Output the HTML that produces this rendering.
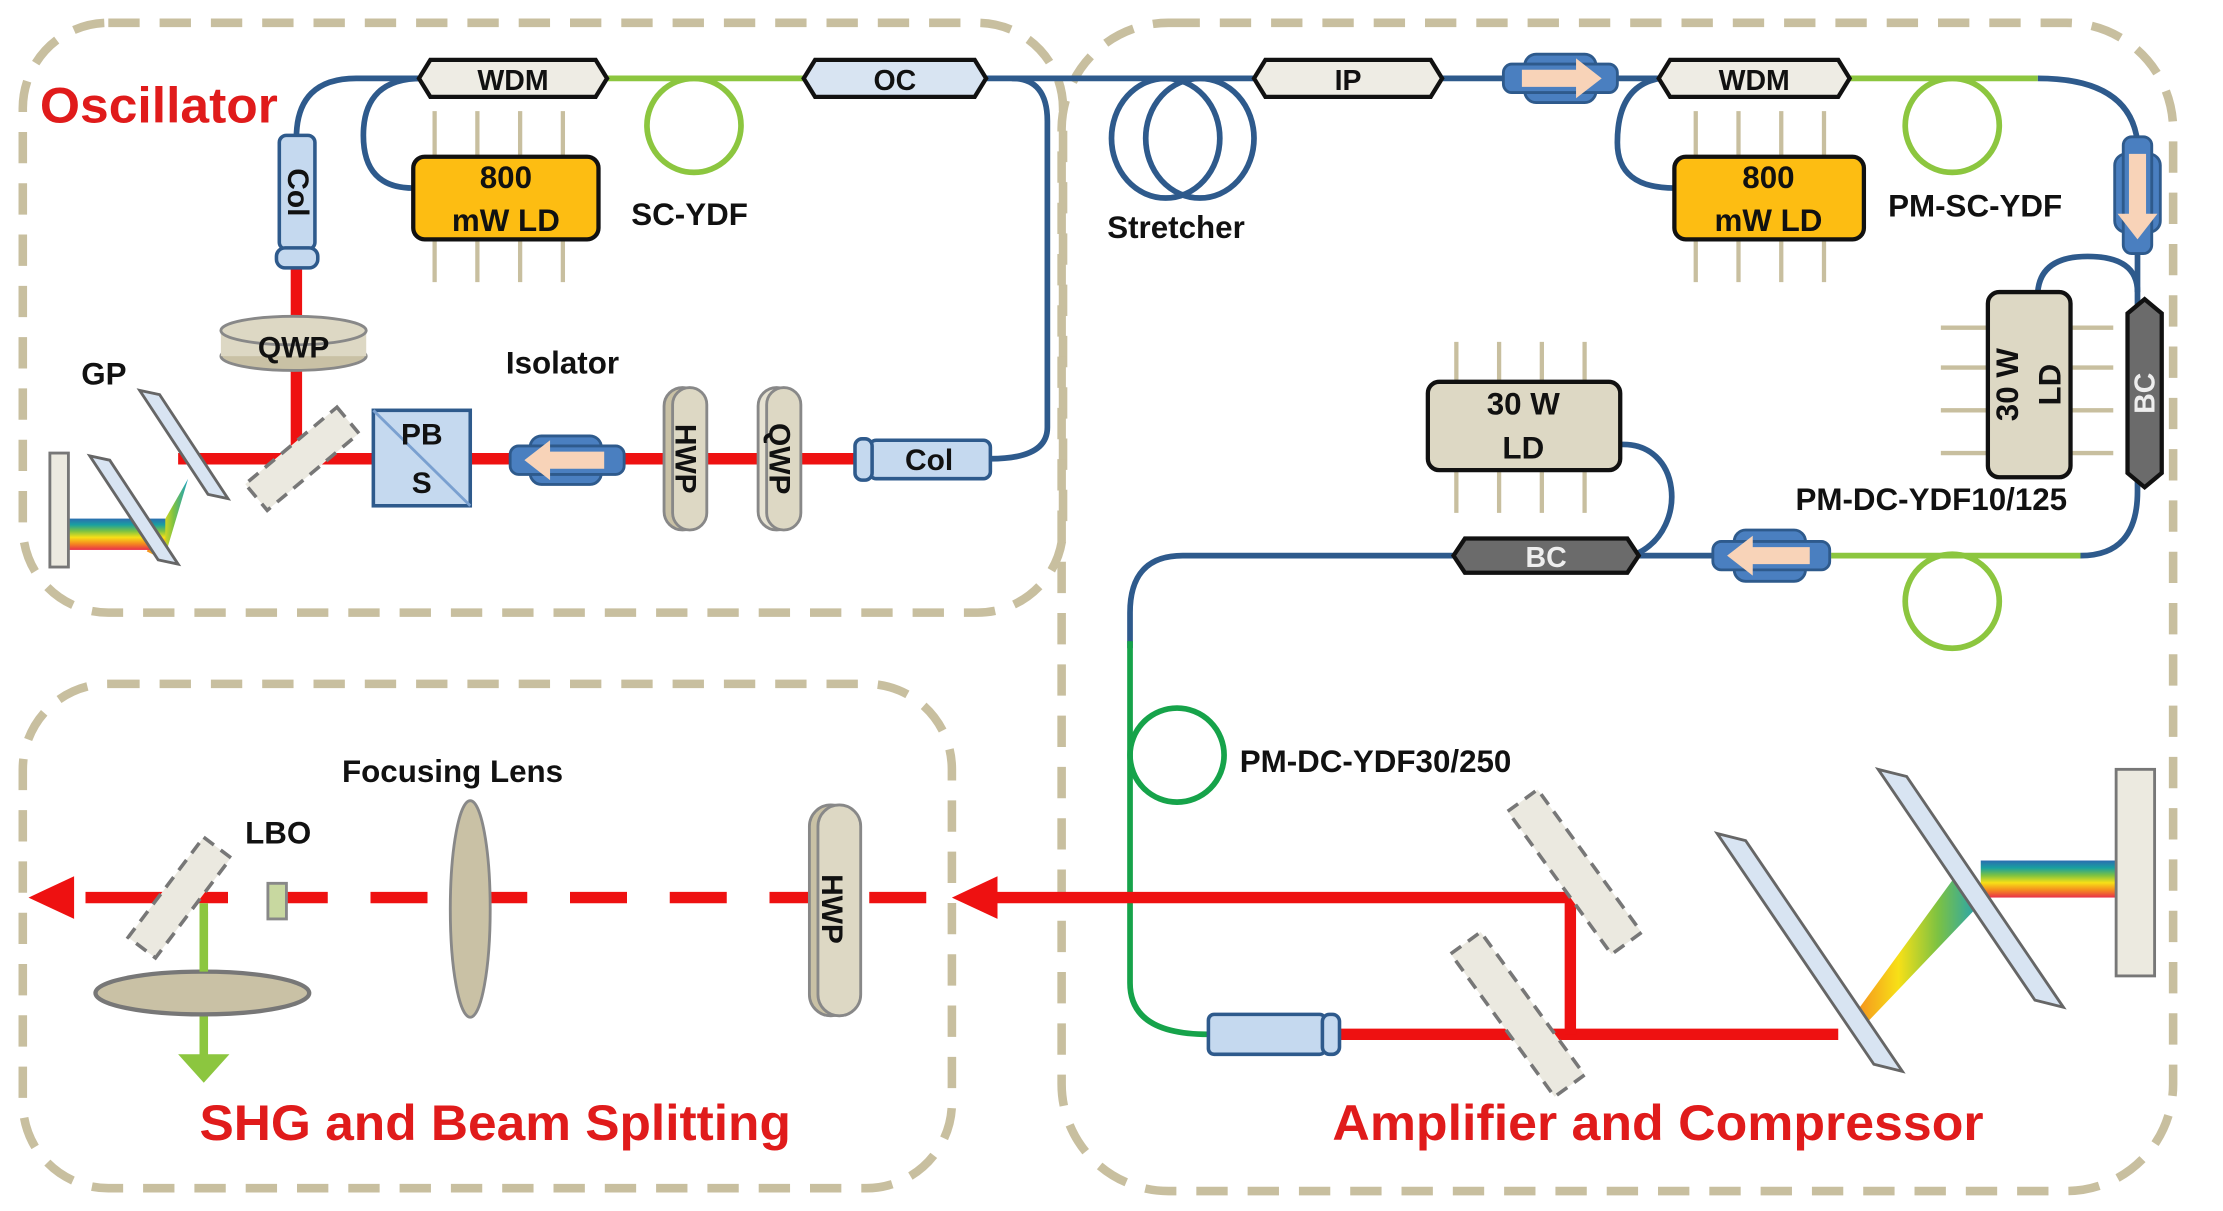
<!DOCTYPE html>
<html><head><meta charset="utf-8"><style>html,body{margin:0;padding:0;background:#fff}svg{display:block}</style></head>
<body>
<svg width="2223" height="1211" viewBox="0 0 1560 850" preserveAspectRatio="none" xmlns="http://www.w3.org/2000/svg" font-family="Liberation Sans, sans-serif">
<defs>
<linearGradient id="rbv" x1="0" y1="0" x2="0" y2="1">
<stop offset="0" stop-color="#2b6cb0"/><stop offset=".2" stop-color="#19a0a0"/><stop offset=".4" stop-color="#7dc242"/><stop offset=".6" stop-color="#f7e017"/><stop offset=".8" stop-color="#f58a1f"/><stop offset="1" stop-color="#e8304a"/>
</linearGradient>
<linearGradient id="rbf" x1="0" y1="0" x2="1" y2="0">
<stop offset="0" stop-color="#f58a1f"/><stop offset=".35" stop-color="#f7e017"/><stop offset=".65" stop-color="#7dc242"/><stop offset="1" stop-color="#19a0c0"/>
</linearGradient>
</defs>
<g fill="none" stroke="#c8bf9f" stroke-width="6" stroke-dasharray="22 14">
<rect x="16" y="16" width="730" height="414" rx="60"/>
<rect x="745" y="16" width="780" height="820" rx="75"/>
<rect x="16" y="480" width="652" height="354" rx="60"/>
</g>
<g fill="none" stroke="#2e5a8c" stroke-width="4">
<path d="M208 97 Q208 55 250 55 L296 55"/>
<path d="M296 55 Q255 55 255 95 Q255 132 290 132"/>
<path d="M690 55 L1170 55"/>
<path d="M710 55 Q735 55 735 85 L735 300 Q735 322 695 322"/>
<path d="M1165 55 Q1135 60 1135 100 Q1135 132 1175 132"/>
<path d="M1430 55 Q1495 55 1500 100 L1500 345 Q1500 390 1460 390"/>
<path d="M1500 205 Q1500 180 1465 180 Q1432 180 1430 205"/>
<path d="M1285 390 L1020 390"/>
<path d="M1137 312 C1180 310 1185 370 1150 388"/>
<path d="M1020 390 L830 390 Q793 390 793 430 L793 455"/>
</g>
<g fill="none" stroke="#8cc63f" stroke-width="4">
<path d="M425 55 L565 55"/><circle cx="487" cy="88" r="33"/>
<path d="M1295 55 L1430 55"/><circle cx="1370" cy="88" r="33"/>
<path d="M1460 390 L1285 390"/><circle cx="1370" cy="422" r="33"/>
</g>
<g fill="none" stroke="#16a34a" stroke-width="4">
<path d="M793 450 L793 690 Q793 726 848 726"/><circle cx="826" cy="530" r="33"/>
</g>
<g fill="none" stroke="#2e5a8c" stroke-width="4">
<ellipse cx="818" cy="97" rx="38" ry="42"/><ellipse cx="842" cy="97" rx="38" ry="42"/>
</g>
<g stroke="#ee1111" stroke-width="8" fill="none">
<path d="M208 188 L208 322"/><path d="M125 322 L600 322"/>
<path d="M940 726 L1290 726"/><path d="M1102 726 L1102 630 L690 630"/>
<path d="M60 630 L160 630"/>
<path d="M190 630 L660 630" stroke-dasharray="40 30"/>
</g>
<polygon points="668,630 700,615 700,645" fill="#ee1111"/>
<polygon points="20,630 52,615 52,645" fill="#ee1111"/>
<polygon points="132,336 103,387 115,393" fill="url(#rbf)"/>
<rect x="48" y="364" width="68" height="22" fill="url(#rbv)"/>
<polygon points="1300,714 1370,618 1392,632 1308,720" fill="url(#rbf)"/>
<rect x="1390" y="604" width="95" height="26" fill="url(#rbv)"/>
<g fill="#d8e4f2" stroke="#666" stroke-width="2">
<polygon points="98,274 112,277 160,350 146,347"/>
<polygon points="63,320 77,323 125,396 111,393"/>
<polygon points="1205,585 1225,590 1335,752 1315,747"/>
<polygon points="1318,540 1338,545 1448,707 1428,702"/>
</g>
<rect x="35" y="318" width="13" height="80" fill="#eceae0" stroke="#777" stroke-width="2"/>
<rect x="1485" y="540" width="27" height="145" fill="#eceae0" stroke="#777" stroke-width="2"/>
<g fill="#ebe9e0" stroke="#777" stroke-width="2.5" stroke-dasharray="9 6">
<rect x="-12" y="-42" width="24" height="84" transform="translate(212,322) rotate(50)"/>
<rect x="-13" y="-62" width="26" height="124" transform="translate(1105,612) rotate(-36)"/>
<rect x="-13" y="-62" width="26" height="124" transform="translate(1065,712) rotate(-36)"/>
<rect x="-12" y="-44" width="24" height="88" transform="translate(126,630) rotate(37)"/>
</g>
<g stroke="#111" stroke-width="3">
<path d="M302 42 L418 42 L426 55 L418 68 L302 68 L294 55 Z" fill="#eeece4"/>
<path d="M572 42 L684 42 L692 55 L684 68 L572 68 L564 55 Z" fill="#d8e4f2"/>
<path d="M888 42 L1004 42 L1012 55 L1004 68 L888 68 L880 55 Z" fill="#eeece4"/>
<path d="M1172 42 L1290 42 L1298 55 L1290 68 L1172 68 L1164 55 Z" fill="#eeece4"/>
<path d="M1028 378 L1142 378 L1150 390 L1142 402 L1028 402 L1020 390 Z" fill="#6b6b6b"/>
<path d="M1493 220 L1505 210 L1517 220 L1517 332 L1505 342 L1493 332 Z" fill="#6b6b6b"/>
</g>
<g font-size="20" font-weight="bold" fill="#111" text-anchor="middle">
<text x="360" y="63">WDM</text><text x="628" y="63">OC</text><text x="946" y="63">IP</text><text x="1231" y="63">WDM</text>
<text x="1085" y="398" fill="#eee">BC</text>
<text transform="translate(1512,276) rotate(-90)" fill="#eee">BC</text>
</g>
<g stroke="#c8bf9f" stroke-width="3">
<path d="M305 78V198M335 78V198M365 78V198M395 78V198"/>
<path d="M1190 78V198M1220 78V198M1250 78V198M1280 78V198"/>
<path d="M1022 240V360M1052 240V360M1082 240V360M1112 240V360"/>
<path d="M1362 230H1483M1362 258H1483M1362 288H1483M1362 318H1483"/>
</g>
<g stroke="#111" stroke-width="3">
<rect x="290" y="110" width="130" height="58" rx="8" fill="#fdbd12"/>
<rect x="1175" y="110" width="133" height="58" rx="8" fill="#fdbd12"/>
<rect x="1002" y="268" width="135" height="62" rx="8" fill="#ddd8c4"/>
<rect x="1395" y="205" width="58" height="130" rx="8" fill="#ddd8c4"/>
</g>
<g font-size="22" font-weight="bold" fill="#111" text-anchor="middle">
<text x="355" y="132">800</text><text x="355" y="162">mW LD</text>
<text x="1241" y="132">800</text><text x="1241" y="162">mW LD</text>
<text x="1069" y="291">30 W</text><text x="1069" y="322">LD</text>
<text transform="translate(1416,270) rotate(-90)">30 W</text>
<text transform="translate(1446,270) rotate(-90)">LD</text>
</g>
<g fill="#c5d9ef" stroke="#2e5a8c" stroke-width="2.5">
<rect x="196" y="95" width="25" height="80" rx="5"/><rect x="194" y="174" width="29" height="14" rx="6"/>
<rect x="610" y="309" width="85" height="27" rx="5"/><rect x="600" y="308" width="12" height="29" rx="5"/>
<rect x="848" y="712" width="82" height="28" rx="4"/><rect x="928" y="712" width="12" height="28" rx="5"/>
<rect x="262" y="288" width="68" height="67" fill="#c5d9ef"/>
</g>
<line x1="262" y1="288" x2="330" y2="355" stroke="#7aa0d0" stroke-width="2"/>
<g font-size="21" font-weight="bold" fill="#111" text-anchor="middle">
<text transform="translate(202,135) rotate(90)">Col</text>
<text x="652" y="330">Col</text>
<text x="296" y="312">PB</text><text x="296" y="346">S</text>
</g>
<g fill="#4a7fc0" stroke="#2e5a8c" stroke-width="2">
<rect x="372" y="306" width="50" height="34" rx="8"/><rect x="358" y="313" width="80" height="20" rx="6"/>
<rect x="1070" y="38" width="50" height="34" rx="8"/><rect x="1055" y="45" width="80" height="20" rx="6"/>
<rect x="1217" y="372" width="50" height="36" rx="8"/><rect x="1202" y="380" width="82" height="20" rx="6"/>
<rect x="1484" y="108" width="32" height="55" rx="8"/><rect x="1490" y="96" width="20" height="82" rx="6"/>
</g>
<g fill="#f8d3b8">
<polygon points="368,323 386,309 386,317 424,317 424,329 386,329 386,337"/>
<polygon points="1124,55 1106,41 1106,49 1068,49 1068,61 1106,61 1106,69"/>
<polygon points="1212,390 1230,376 1230,384 1270,384 1270,396 1230,396 1230,404"/>
<polygon points="1500,168 1486,150 1494,150 1494,108 1506,108 1506,150 1514,150"/>
</g>
<g stroke="#888" stroke-width="2">
<ellipse cx="206" cy="250" rx="51" ry="10" fill="#c9c1a5"/>
<rect x="155" y="232" width="102" height="18" fill="#ddd8c4" stroke="none"/>
<ellipse cx="206" cy="232" rx="51" ry="10" fill="#ddd8c4"/>
<rect x="466" y="272" width="26" height="100" rx="13" fill="#c9c1a5"/>
<rect x="472" y="272" width="24" height="100" rx="12" fill="#ddd8c4"/>
<rect x="532" y="272" width="26" height="100" rx="13" fill="#e6e2d2"/>
<rect x="538" y="272" width="24" height="100" rx="12" fill="#ddd8c4"/>
<rect x="568" y="565" width="30" height="148" rx="15" fill="#c9c1a5"/>
<rect x="574" y="565" width="30" height="148" rx="15" fill="#ddd8c4"/>
</g>
<g font-size="21" font-weight="bold" fill="#111" text-anchor="middle">
<text x="206" y="251">QWP</text>
<text transform="translate(474,322) rotate(90)">HWP</text>
<text transform="translate(540,322) rotate(90)">QWP</text>
<text transform="translate(577,638) rotate(90)">HWP</text>
</g>
<ellipse cx="330" cy="638" rx="14" ry="76" fill="#c9c1a5" stroke="#888" stroke-width="2"/>
<rect x="188" y="620" width="13" height="25" fill="#c8d8a0" stroke="#888" stroke-width="2"/>
<path d="M143 634 L143 742" stroke="#8cc63f" stroke-width="6"/>
<polygon points="125,740 161,740 143,760" fill="#8cc63f"/>
<ellipse cx="142" cy="697" rx="75" ry="15" fill="#c9c1a5" stroke="#777" stroke-width="3"/>
<path d="M143 640 L143 682" stroke="#8cc63f" stroke-width="6"/>
<g font-size="22" font-weight="bold" fill="#111">
<text x="443" y="158">SC-YDF</text>
<text x="355" y="262">Isolator</text>
<text x="57" y="270">GP</text>
<text x="777" y="167">Stretcher</text>
<text x="1325" y="152">PM-SC-YDF</text>
<text x="1260" y="358">PM-DC-YDF10/125</text>
<text x="870" y="542">PM-DC-YDF30/250</text>
<text x="240" y="549">Focusing Lens</text>
<text x="172" y="592">LBO</text>
</g>
<g font-size="35" font-weight="bold" fill="#e01b1b">
<text x="28" y="86" textLength="167" lengthAdjust="spacingAndGlyphs">Oscillator</text>
<text x="140" y="800" textLength="415" lengthAdjust="spacingAndGlyphs">SHG and Beam Splitting</text>
<text x="935" y="800" textLength="457" lengthAdjust="spacingAndGlyphs">Amplifier and Compressor</text>
</g>
</svg>
</body></html>
